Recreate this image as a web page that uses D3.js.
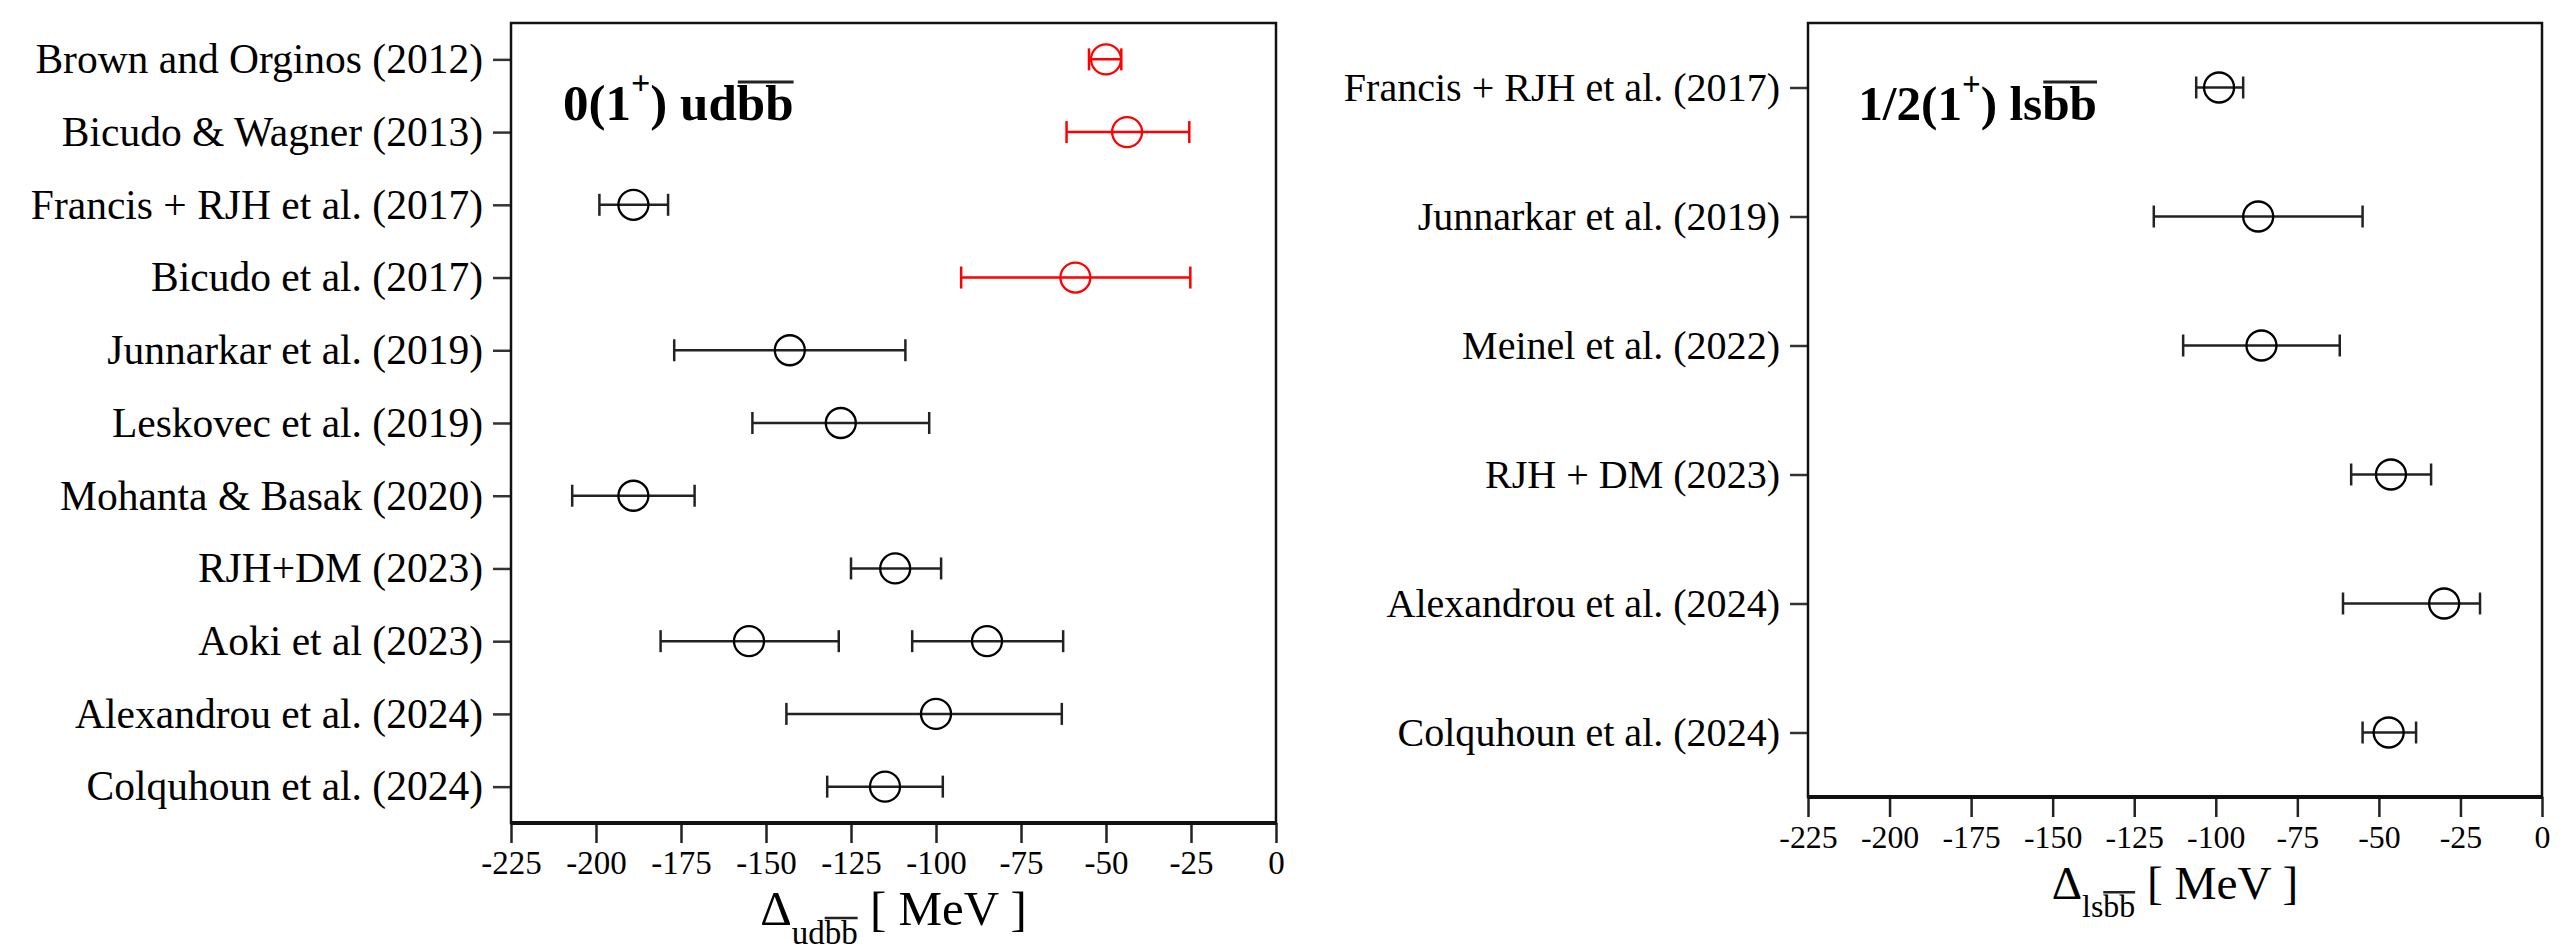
<!DOCTYPE html>
<html><head><meta charset="utf-8">
<script src="https://cdn.jsdelivr.net/npm/d3@7"></script>
<style>
html,body{margin:0;padding:0;background:#fff;}
svg{display:block;}
</style></head><body>
<svg id="chart" width="2561" height="951"></svg>
<script>
const SERIF = '"Liberation Serif","Times New Roman",Times,serif';
const xDomain = [-225, 0];
const xTicks = [-225, -200, -175, -150, -125, -100, -75, -50, -25, 0];

// Panel 1: 0(1+) ud bb-bar
const udLabels = ["Brown and Orginos (2012)", "Bicudo & Wagner (2013)", "Francis + RJH et al. (2017)",
  "Bicudo et al. (2017)", "Junnarkar et al. (2019)", "Leskovec et al. (2019)", "Mohanta & Basak (2020)",
  "RJH+DM (2023)", "Aoki et al (2023)", "Alexandrou et al. (2024)", "Colquhoun et al. (2024)"];
const udRow   = [0, 1, 2, 3, 4, 5, 6, 7, 8, 8, 9, 10];
const udVal   = [-50, -43.8, -189, -59, -143, -128, -189, -112, -155, -85, -100, -115];
const udLow   = [-55, -61.6, -199, -92.6, -177, -154, -207, -125, -181, -107, -144, -132];
const udHigh  = [-45.5, -25.5, -178.8, -25.2, -109, -102, -171, -98.5, -128.6, -62.6, -63, -98];
const udColor = ["#ff0000", "#ff0000", "#000", "#ff0000", "#000", "#000", "#000", "#000", "#000", "#000", "#000", "#000"];

// Panel 2: 1/2(1+) ls bb-bar
const lsLabels = ["Francis + RJH et al. (2017)", "Junnarkar et al. (2019)", "Meinel et al. (2022)",
  "RJH + DM (2023)", "Alexandrou et al. (2024)", "Colquhoun et al. (2024)"];
const lsRow   = [0, 1, 2, 3, 4, 5];
const lsVal   = [-99, -87, -86, -46.3, -30, -47];
const lsLow   = [-106, -119, -110, -58.5, -61, -55];
const lsHigh  = [-91.6, -55, -62, -34, -19, -38.6];
const lsColor = ["#000", "#000", "#000", "#000", "#000", "#000"];

const svg = d3.select("#chart");
svg.append("rect").attr("width", 2561).attr("height", 951).attr("fill", "#fff");

function charSpan(textEl, i0, i1) {
  const node = textEl.node();
  return [node.getStartPositionOfChar(i0).x, node.getEndPositionOfChar(i1).x];
}

function drawPanel(cfg) {
  const g = svg.append("g");
  const s = cfg.s;
  const x = d3.scaleLinear().domain(xDomain).range([cfg.left, cfg.right]);
  const y = d3.scalePoint().domain(cfg.labels).range([cfg.top, cfg.bottom]).padding(0.5);

  // y axis
  const ya = g.append("g").attr("transform", `translate(${cfg.left},0)`)
    .call(d3.axisLeft(y).tickSize(18).tickSizeOuter(0).tickPadding(10));
  ya.attr("font-family", SERIF).attr("font-size", 41.5 * s);
  ya.select(".domain").remove();
  ya.selectAll(".tick line").attr("stroke", "#333").attr("stroke-width", 2.5);
  ya.selectAll(".tick text").attr("fill", "#000");

  // x axis
  const xa = g.append("g").attr("transform", `translate(0,${cfg.bottom})`)
    .call(d3.axisBottom(x).tickValues(xTicks).tickSize(20).tickSizeOuter(0).tickPadding(8)
      .tickFormat(d => String(d)));
  xa.attr("font-family", SERIF).attr("font-size", 33 * s);
  xa.select(".domain").remove();
  xa.selectAll(".tick line").attr("stroke", "#222").attr("stroke-width", 2.5);
  xa.selectAll(".tick text").attr("fill", "#000");

  // frame
  g.append("rect").attr("x", cfg.left).attr("y", cfg.top)
    .attr("width", cfg.right - cfg.left).attr("height", cfg.bottom - cfg.top)
    .attr("fill", "none").attr("stroke", "#111").attr("stroke-width", 2.5);
  g.append("line").attr("x1", cfg.left).attr("x2", cfg.right)
    .attr("y1", cfg.bottom).attr("y2", cfg.bottom)
    .attr("stroke", "#111").attr("stroke-width", 4);

  // data
  const pts = cfg.row.map((r, i) => ({
    yv: cfg.labels[r], v: cfg.val[i], lo: cfg.low[i], hi: cfg.high[i], c: cfg.color[i]
  }));
  const cap = 11;
  const barColor = d => d.c === "#000" ? "#222" : d.c;
  const pg = g.append("g");
  pg.selectAll("line.bar").data(pts).join("line").attr("class", "bar")
    .attr("x1", d => x(d.lo)).attr("x2", d => x(d.hi))
    .attr("y1", d => y(d.yv)).attr("y2", d => y(d.yv))
    .attr("stroke", barColor).attr("stroke-width", 2.5);
  pg.selectAll("line.capl").data(pts).join("line").attr("class", "capl")
    .attr("x1", d => x(d.lo)).attr("x2", d => x(d.lo))
    .attr("y1", d => y(d.yv) - cap).attr("y2", d => y(d.yv) + cap)
    .attr("stroke", barColor).attr("stroke-width", 2.5);
  pg.selectAll("line.caph").data(pts).join("line").attr("class", "caph")
    .attr("x1", d => x(d.hi)).attr("x2", d => x(d.hi))
    .attr("y1", d => y(d.yv) - cap).attr("y2", d => y(d.yv) + cap)
    .attr("stroke", barColor).attr("stroke-width", 2.5);
  pg.selectAll("circle").data(pts).join("circle")
    .attr("cx", d => x(d.v)).attr("cy", d => y(d.yv)).attr("r", 15)
    .attr("fill", "none").attr("stroke", d => d.c).attr("stroke-width", 2.3);

  // panel title (bold) with superscript + and overline on bb
  const fs = 51 * s;
  const tt = g.append("text").attr("x", cfg.left + 52 * s).attr("y", 120)
    .attr("font-family", SERIF).attr("font-weight", "bold").attr("font-size", fs).attr("fill", "#000");
  tt.append("tspan").text(cfg.pre);
  tt.append("tspan").attr("dy", -26 * s).attr("font-size", 34 * s).text("+");
  tt.append("tspan").attr("dy", 26 * s).text(") " + cfg.q + "bb");
  const nChars = (cfg.pre + "+" + ") " + cfg.q + "bb").length;
  const [oa, ob] = charSpan(tt, nChars - 2, nChars - 1);
  g.append("line").attr("x1", oa + 1).attr("x2", ob).attr("y1", 82).attr("y2", 82)
    .attr("stroke", "#222").attr("stroke-width", 3);

  // x axis title: Δ_{q bb} [ MeV ]
  const cx = (cfg.left + cfg.right) / 2;
  const ty = cfg.bottom + 102;
  const at = g.append("text").attr("x", cx).attr("y", ty).attr("text-anchor", "middle")
    .attr("font-family", SERIF).attr("font-size", 49 * s).attr("fill", "#000");
  at.append("tspan").text("\u0394");
  at.append("tspan").attr("dy", 19 * s).attr("font-size", 33 * s).text(cfg.q + "bb");
  at.append("tspan").attr("dy", -19 * s).text(" [ MeV ]");
  const i0 = 1 + cfg.q.length;
  const [aa, ab] = charSpan(at, i0, i0 + 1);
  const oy = ty + 19 * s - 26 * s;
  g.append("line").attr("x1", aa).attr("x2", ab).attr("y1", oy).attr("y2", oy)
    .attr("stroke", "#222").attr("stroke-width", 2.5);
}

drawPanel({
  left: 511, right: 1276, top: 23, bottom: 823, s: 1,
  labels: udLabels, row: udRow, val: udVal, low: udLow, high: udHigh, color: udColor,
  pre: "0(1", q: "ud"
});
drawPanel({
  left: 1808, right: 2542, top: 23, bottom: 797, s: 0.965,
  labels: lsLabels, row: lsRow, val: lsVal, low: lsLow, high: lsHigh, color: lsColor,
  pre: "1/2(1", q: "ls"
});
</script>
</body></html>
